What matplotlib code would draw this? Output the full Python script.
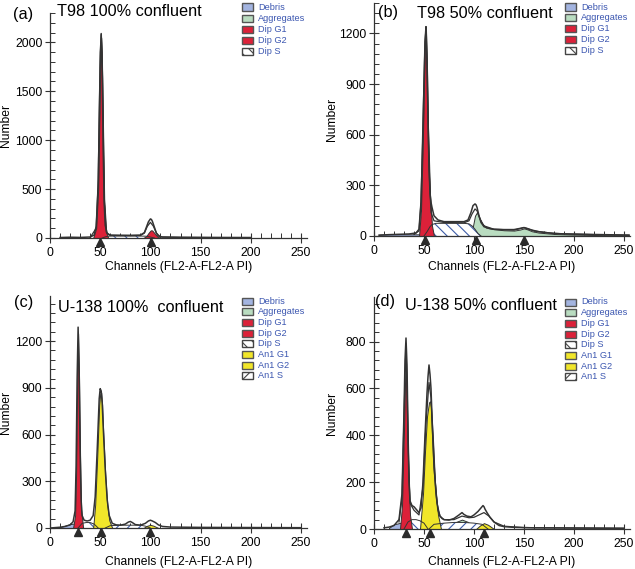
import matplotlib
matplotlib.use("Agg")
import matplotlib.pyplot as plt
from matplotlib.patches import Rectangle
from matplotlib.ticker import MultipleLocator, AutoMinorLocator
from matplotlib.transforms import offset_copy

plt.rcParams['font.family'] = ['Liberation Sans', 'DejaVu Sans']
plt.rcParams['hatch.linewidth'] = 0.8

# ---- data (channel, count) ----
# (a) T98 100% confluent
a_raw_x = [10, 20, 30, 40, 44, 46, 48, 49, 50, 51, 52, 53, 54, 55, 57, 60, 70, 80, 90, 94, 96,
           98, 100, 101, 102, 104, 106, 108, 112, 130, 160, 200]
a_raw_y = [5, 8, 6, 10, 30, 120, 520, 1150, 1750, 2090, 1700, 900, 350, 130, 45, 30, 28, 27, 30,
           55, 110, 165, 195, 190, 170, 110, 50, 20, 10, 8, 6, 5]
a_fit_x = [40, 46, 48, 50, 51, 52, 54, 56, 60, 90, 94, 97, 100, 103, 106, 110, 130, 200]
a_fit_y = [5, 100, 600, 1900, 2080, 1900, 400, 60, 25, 25, 50, 120, 160, 120, 50, 10, 5, 3]
a_g1_x = [43, 46, 48, 50, 51, 52, 54, 56, 58]
a_g1_y = [0, 100, 500, 1700, 2050, 1650, 400, 60, 0]
a_g2_x = [93, 96, 98, 100, 101, 102, 104, 107, 110]
a_g2_y = [0, 20, 50, 75, 80, 75, 50, 15, 0]
a_s_x = [52, 56, 60, 90, 96, 100, 104]
a_s_y = [0, 15, 20, 20, 18, 10, 0]
a_marks = [50, 101]

# (b) T98 50% confluent
b_raw_x = [5, 15, 25, 35, 42, 45, 47, 49, 50, 51, 52, 53, 54, 55, 56, 57, 58, 60, 64, 70, 80, 90,
           94, 97, 99, 101, 102, 103, 105, 107, 110, 115, 120, 130, 140, 146, 150, 153, 158, 165,
           175, 190, 210, 230, 255]
b_raw_y = [5, 8, 10, 12, 18, 40, 200, 600, 900, 1150, 1240, 1050, 700, 420, 250, 200, 170, 120,
           95, 85, 85, 85, 95, 140, 180, 190, 185, 170, 120, 80, 55, 45, 40, 38, 38, 45, 50, 45,
           35, 25, 18, 12, 10, 8, 5]
b_fit_x = [40, 45, 47, 49, 51, 52, 53, 55, 57, 60, 70, 90, 95, 98, 101, 103, 106, 110, 120, 140,
           147, 150, 154, 160, 180, 220, 255]
b_fit_y = [10, 30, 200, 700, 1150, 1230, 1000, 400, 140, 90, 80, 78, 90, 130, 160, 150, 100, 60,
           40, 35, 45, 50, 42, 30, 15, 8, 5]
b_g1_x = [45, 47, 49, 50, 51, 52, 53, 54, 56, 58, 60]
b_g1_y = [0, 150, 600, 900, 1150, 1220, 1000, 650, 250, 60, 0]
b_s_x = [50, 53, 56, 58, 62, 70, 90, 95, 98, 101, 104, 107]
b_s_y = [0, 25, 55, 68, 75, 75, 75, 72, 60, 40, 15, 0]
b_agg_x = [96, 99, 101, 103, 105, 108, 112, 120, 130, 140, 146, 150, 153, 158, 165, 180, 200,
           230, 255]
b_agg_y = [0, 60, 120, 140, 115, 75, 50, 40, 34, 32, 38, 45, 40, 28, 20, 12, 8, 5, 3]
b_deb_x = [5, 15, 30, 45, 50, 60, 80, 95, 100, 105, 110]
b_deb_y = [8, 10, 10, 10, 8, 6, 5, 20, 25, 15, 0]
b_marks = [51, 102, 150]

# (c) U-138 100% confluent
c_raw_x = [0, 10, 15, 20, 23, 25, 26, 27, 28, 29, 30, 31, 32, 34, 37, 40, 43, 45, 47, 49, 50, 51,
           52, 53, 55, 57, 59, 62, 66, 70, 75, 78, 80, 82, 85, 90, 95, 98, 100, 102, 105, 108,
           112, 120, 150, 200, 250]
c_raw_y = [0, 5, 10, 20, 40, 110, 400, 950, 1290, 1000, 500, 180, 80, 50, 45, 50, 80, 200, 500,
           830, 895, 880, 800, 650, 380, 180, 80, 30, 20, 18, 25, 38, 42, 35, 22, 18, 30, 45, 50,
           45, 35, 20, 10, 6, 4, 3, 2]
c_g1_x = [23, 25, 26, 27, 28, 29, 30, 31, 33]
c_g1_y = [0, 80, 350, 900, 1250, 950, 450, 120, 0]
c_an_g1_x = [43, 45, 47, 49, 50, 51, 52, 53, 55, 57, 59, 62]
c_an_g1_y = [0, 150, 450, 790, 860, 870, 790, 620, 350, 150, 50, 0]
c_deb_x = [10, 15, 20, 25, 30, 35, 40, 45]
c_deb_y = [5, 15, 25, 30, 25, 20, 15, 0]
c_s_x = [28, 32, 36, 40, 44, 48]
c_s_y = [0, 30, 35, 35, 25, 0]
c_an_s_x = [55, 60, 70, 80, 90, 95, 100]
c_an_s_y = [0, 15, 18, 18, 18, 12, 0]
c_an_g2_x = [93, 97, 100, 103, 108]
c_an_g2_y = [0, 15, 20, 15, 0]
c_marks = [28, 51, 100]

# (d) U-138 50% confluent
d_raw_x = [10, 15, 20, 25, 28, 30, 31, 32, 33, 34, 35, 36, 38, 40, 42, 45, 47, 49, 51, 53, 54, 55,
           56, 57, 58, 60, 62, 64, 66, 68, 70, 75, 80, 85, 88, 90, 93, 97, 100, 104, 107, 109,
           110, 111, 113, 116, 120, 125, 130, 140, 160, 200, 250]
d_raw_y = [5, 8, 15, 40, 150, 500, 720, 815, 700, 420, 200, 120, 100, 95, 85, 70, 90, 200, 400,
           580, 650, 700, 660, 600, 480, 280, 150, 80, 55, 45, 40, 38, 45, 60, 70, 62, 55, 52, 60,
           75, 90, 100, 95, 85, 70, 50, 30, 15, 10, 7, 5, 4, 3]
d_fit_x = [25, 28, 30, 32, 34, 36, 40, 45, 49, 52, 55, 57, 60, 63, 66, 70, 80, 88, 95, 100, 105,
           110, 115, 120, 130, 150, 250]
d_fit_y = [30, 130, 480, 790, 380, 110, 80, 60, 180, 450, 625, 560, 260, 110, 55, 40, 40, 55, 48,
           50, 60, 70, 55, 30, 12, 6, 3]
d_g1_x = [26, 28, 30, 31, 32, 33, 34, 36, 38]
d_g1_y = [0, 100, 420, 620, 700, 560, 300, 60, 0]
d_an_g1_x = [46, 49, 51, 53, 55, 56, 57, 59, 61, 64, 67]
d_an_g1_y = [0, 150, 330, 480, 540, 545, 520, 380, 200, 60, 0]
d_deb_x = [15, 20, 30, 40, 60, 80, 90, 100, 110]
d_deb_y = [5, 20, 30, 30, 25, 20, 15, 8, 0]
d_s_x = [30, 34, 38, 42, 46, 50, 54]
d_s_y = [0, 30, 40, 40, 35, 25, 0]
d_an_s_x = [55, 60, 70, 80, 90, 100, 108, 114]
d_an_s_y = [0, 20, 25, 28, 28, 25, 20, 0]
d_agg_x = [75, 82, 88, 94, 100]
d_agg_y = [0, 30, 40, 30, 0]
d_an_g2_x = [102, 106, 110, 114, 120]
d_an_g2_y = [0, 15, 25, 18, 0]
d_marks = [32, 56, 110]

LEG_DIP = ['Debris', 'Aggregates', 'Dip G1', 'Dip G2', 'Dip S']
LEG_AN = LEG_DIP + ['An1 G1', 'An1 G2', 'An1 S']

RED = '#dc2139'
YELLOW = '#f1e62a'
GREEN = '#b9dcc0'
BLUE = '#a3b4e0'
HATCH_BLUE = '#3d5ca8'
LINE = '#333333'
TEXT_BLUE = '#3b56b0'

W, H = 635, 569
fig = plt.figure(figsize=(W / 100, H / 100), dpi=100)


def add_axes(left, top, right, bottom):
    return fig.add_axes([left / W, 1 - bottom / H, (right - left) / W, (bottom - top) / H])


def fill(ax, x, y, color):
    ax.fill_between(x, 0, y, facecolor=color, edgecolor=LINE, linewidth=0.7, zorder=2)


def hatch(ax, x, y, pattern):
    ax.fill_between(x, 0, y, facecolor='white', edgecolor=HATCH_BLUE, hatch=pattern,
                    linewidth=0, zorder=2)
    ax.plot(x, y, color=LINE, lw=0.7, zorder=3)


def style(ax, ymax, major, ylab_x, xlab_px):
    ax.set_xlim(0, 256)
    ax.set_ylim(0, ymax)
    for s in ('top', 'right'):
        ax.spines[s].set_visible(False)
    for s in ('left', 'bottom'):
        ax.spines[s].set_color(LINE)
        ax.spines[s].set_linewidth(0.9)
    ax.xaxis.set_major_locator(MultipleLocator(50))
    ax.xaxis.set_minor_locator(MultipleLocator(10))
    ax.yaxis.set_major_locator(MultipleLocator(major))
    ax.yaxis.set_minor_locator(AutoMinorLocator(5))
    ax.tick_params(which='major', direction='inout', length=7, width=0.8, color=LINE,
                   labelsize=8.7, pad=3)
    ax.tick_params(which='minor', direction='in', length=3.5, width=0.7, color=LINE)
    ax.tick_params(axis='y', which='major', pad=2)
    ax.set_xlabel('Channels (FL2-A-FL2-A PI)', fontsize=8.7)
    ax.set_ylabel('Number', fontsize=8.7)
    h_px = ax.get_position().height * H
    w_px = ax.get_position().width * W
    ax.yaxis.set_label_coords(ylab_x / w_px, 0.5)
    ax.xaxis.set_label_coords(0.5, -xlab_px / h_px)


def marks(ax, xs):
    tr = offset_copy(ax.get_xaxis_transform(), fig=fig, y=-3.8, units='dots')
    ax.plot(xs, [0] * len(xs), ls='none', marker='^', ms=5.6, color='#2b2b2b',
            transform=tr, clip_on=False, zorder=5)


def legend(x0, y0, labels, step):
    kinds = {'Debris': BLUE, 'Aggregates': GREEN, 'Dip G1': RED, 'Dip G2': RED,
             'An1 G1': YELLOW, 'An1 G2': YELLOW}
    for i, lab in enumerate(labels):
        yc = y0 + i * step
        if lab in kinds:
            r = Rectangle((x0 / W, 1 - (yc + 3.5) / H), 11 / W, 7 / H, transform=fig.transFigure,
                          facecolor=kinds[lab], edgecolor='#555555', linewidth=1.0)
        else:
            r = Rectangle((x0 / W, 1 - (yc + 3.5) / H), 11 / W, 7 / H, transform=fig.transFigure,
                          facecolor='white', edgecolor='#444444', linewidth=1.0,
                          hatch='\\\\\\' if lab == 'Dip S' else '///')
        fig.patches.append(r)
        fig.text((x0 + 16) / W, 1 - yc / H, lab, fontsize=6.6, color=TEXT_BLUE,
                 ha='left', va='center')


# (a)
ax = add_axes(50, 13, 307, 238)
hatch(ax, a_s_x, a_s_y, '\\\\\\')
fill(ax, a_g1_x, a_g1_y, RED)
fill(ax, a_g2_x, a_g2_y, RED)
ax.plot(a_fit_x, a_fit_y, color=LINE, lw=0.9, zorder=4)
ax.plot(a_raw_x, a_raw_y, color=LINE, lw=1.1, zorder=4)
style(ax, 2300, 500, -38, 23)
marks(ax, a_marks)
fig.text(13 / W, 1 - 15 / H, '(a)', fontsize=11.7, va='center')
fig.text(57 / W, 1 - 11 / H, 'T98 100% confluent', fontsize=11.7, va='center')
legend(242, 7, LEG_DIP, 11.2)

# (b)
ax = add_axes(374, 3, 630, 236)
fill(ax, b_deb_x, b_deb_y, BLUE)
fill(ax, b_agg_x, b_agg_y, GREEN)
hatch(ax, b_s_x, b_s_y, '\\\\\\')
fill(ax, b_g1_x, b_g1_y, RED)
ax.plot(b_fit_x, b_fit_y, color=LINE, lw=0.9, zorder=4)
ax.plot(b_raw_x, b_raw_y, color=LINE, lw=1.1, zorder=4)
style(ax, 1380, 300, -36, 25)
marks(ax, b_marks)
fig.text(378 / W, 1 - 13 / H, '(b)', fontsize=11.7, va='center')
fig.text(417 / W, 1 - 13 / H, 'T98 50% confluent', fontsize=11.7, va='center')
legend(565, 7, LEG_DIP, 10.8)

# (c)
ax = add_axes(50, 296, 307, 528)
fill(ax, c_deb_x, c_deb_y, BLUE)
hatch(ax, c_s_x, c_s_y, '\\\\\\')
hatch(ax, c_an_s_x, c_an_s_y, '///')
fill(ax, c_an_g2_x, c_an_g2_y, YELLOW)
fill(ax, c_g1_x, c_g1_y, RED)
fill(ax, c_an_g1_x, c_an_g1_y, YELLOW)
ax.plot(c_raw_x, c_raw_y, color=LINE, lw=1.1, zorder=4)
style(ax, 1490, 300, -38, 28)
marks(ax, c_marks)
fig.text(14 / W, 1 - 303 / H, '(c)', fontsize=11.7, va='center')
fig.text(58 / W, 1 - 308 / H, 'U-138 100%  confluent', fontsize=11.7, va='center')
legend(242, 301, LEG_AN, 10.7)

# (d)
ax = add_axes(374, 297, 630, 529)
fill(ax, d_deb_x, d_deb_y, BLUE)
fill(ax, d_agg_x, d_agg_y, GREEN)
hatch(ax, d_s_x, d_s_y, '\\\\\\')
hatch(ax, d_an_s_x, d_an_s_y, '///')
fill(ax, d_an_g2_x, d_an_g2_y, YELLOW)
fill(ax, d_g1_x, d_g1_y, RED)
fill(ax, d_an_g1_x, d_an_g1_y, YELLOW)
ax.plot(d_fit_x, d_fit_y, color=LINE, lw=0.9, zorder=4)
ax.plot(d_raw_x, d_raw_y, color=LINE, lw=1.1, zorder=4)
style(ax, 990, 200, -36, 27)
marks(ax, d_marks)
fig.text(375 / W, 1 - 302 / H, '(d)', fontsize=11.7, va='center')
fig.text(405 / W, 1 - 306 / H, 'U-138 50% confluent', fontsize=11.7, va='center')
legend(565, 302, LEG_AN, 10.7)

fig.savefig('out.png', dpi=100)
